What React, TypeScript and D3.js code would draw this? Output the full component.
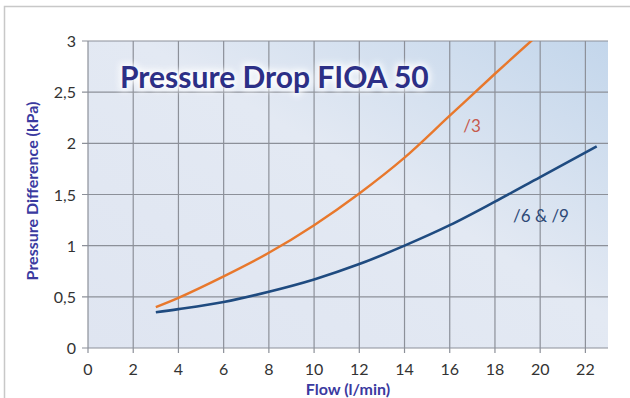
import * as d3 from 'd3';
import { useEffect, useRef } from 'react';

// Flow (l/min) values
const flow3 = [3, 4, 6, 8, 10, 12, 14, 16, 18, 19.6, 20];
const drop3 = [0.4, 0.49, 0.7, 0.93, 1.2, 1.51, 1.86, 2.27, 2.68, 3.0, 3.08];

const flow69 = [3, 4, 6, 8, 10, 12, 14, 16, 18, 20, 22.5];
const drop69 = [0.35, 0.38, 0.45, 0.55, 0.67, 0.82, 1.0, 1.2, 1.43, 1.67, 1.97];

const xTicks = [0, 2, 4, 6, 8, 10, 12, 14, 16, 18, 20, 22];
const yTicks = [0, 0.5, 1, 1.5, 2, 2.5, 3];

const FONT = 'Lato, "Open Sans", sans-serif';

export default function App() {
  const ref = useRef<SVGSVGElement | null>(null);

  useEffect(() => {
    if (!ref.current) return;
    const width = 630;
    const height = 398;
    const left = 88;
    const right = 608;
    const top = 41;
    const bottom = 348;

    const svg = d3.select(ref.current).attr('viewBox', `0 0 ${width} ${height}`);
    svg.selectAll('*').remove();

    const x = d3.scaleLinear().domain([0, 23]).range([left, right]);
    const y = d3.scaleLinear().domain([0, 3]).range([bottom, top]);

    const defs = svg.append('defs');
    const grad = defs
      .append('linearGradient')
      .attr('id', 'bg')
      .attr('x1', '0%')
      .attr('y1', '100%')
      .attr('x2', '100%')
      .attr('y2', '0%');
    grad.append('stop').attr('offset', '0%').attr('stop-color', '#dfe5f1');
    grad.append('stop').attr('offset', '55%').attr('stop-color', '#e3e9f3');
    grad.append('stop').attr('offset', '100%').attr('stop-color', '#c3d6eb');

    defs
      .append('clipPath')
      .attr('id', 'plot')
      .append('rect')
      .attr('x', left)
      .attr('y', top)
      .attr('width', right - left)
      .attr('height', bottom - top);

    const glow = defs
      .append('filter')
      .attr('id', 'glow')
      .attr('x', '-10%')
      .attr('y', '-30%')
      .attr('width', '120%')
      .attr('height', '160%');
    glow.append('feGaussianBlur').attr('stdDeviation', 3);

    /* ---- frame ---- */
    svg.append('rect').attr('width', width).attr('height', height).attr('fill', '#fff');
    svg
      .append('rect')
      .attr('x', 4.5)
      .attr('y', 6.5)
      .attr('width', width)
      .attr('height', height)
      .attr('fill', 'none')
      .attr('stroke', '#c8c8c8')
      .attr('stroke-width', 1.5);

    /* ---- plot background + grid ---- */
    svg
      .append('rect')
      .attr('x', left)
      .attr('y', top)
      .attr('width', right - left)
      .attr('height', bottom - top)
      .attr('fill', 'url(#bg)');

    const grid = svg.append('g').attr('stroke', '#8c9099').attr('stroke-width', 1.2);
    grid
      .selectAll('line.v')
      .data(xTicks)
      .enter()
      .append('line')
      .attr('x1', (d) => x(d))
      .attr('x2', (d) => x(d))
      .attr('y1', top)
      .attr('y2', bottom + 5);
    grid
      .selectAll('line.h')
      .data(yTicks)
      .enter()
      .append('line')
      .attr('x1', left - 6)
      .attr('x2', right)
      .attr('y1', (d) => y(d))
      .attr('y2', (d) => y(d));

    /* ---- tick labels ---- */
    const fmt = (v: number) => String(v).replace('.', ',');
    svg
      .append('g')
      .selectAll('text')
      .data(yTicks)
      .enter()
      .append('text')
      .attr('x', 76)
      .attr('y', (d) => y(d) + 6)
      .attr('text-anchor', 'end')
      .attr('font-family', FONT)
      .attr('font-size', 16)
      .attr('fill', '#333')
      .text(fmt);
    svg
      .append('g')
      .selectAll('text')
      .data(xTicks)
      .enter()
      .append('text')
      .attr('x', (d) => x(d))
      .attr('y', 375)
      .attr('text-anchor', 'middle')
      .attr('font-family', FONT)
      .attr('font-size', 16)
      .attr('fill', '#333')
      .text((d) => String(d));

    /* ---- curves ---- */
    const line = d3
      .line<[number, number]>()
      .x((d) => x(d[0]))
      .y((d) => y(d[1]))
      .curve(d3.curveCatmullRom.alpha(0.5));

    const curves = svg.append('g').attr('clip-path', 'url(#plot)');
    curves
      .append('path')
      .attr('d', line(flow3.map((f, i) => [f, drop3[i]] as [number, number])))
      .attr('fill', 'none')
      .attr('stroke', '#e8782c')
      .attr('stroke-width', 2.4);
    curves
      .append('path')
      .attr('d', line(flow69.map((f, i) => [f, drop69[i]] as [number, number])))
      .attr('fill', 'none')
      .attr('stroke', '#1f4b80')
      .attr('stroke-width', 2.6);

    /* ---- series labels ---- */
    svg
      .append('text')
      .attr('x', x(16.6))
      .attr('y', y(2.11))
      .attr('font-family', FONT)
      .attr('font-size', 17)
      .attr('fill', '#c65a4e')
      .text('/3');
    svg
      .append('text')
      .attr('x', x(18.8))
      .attr('y', y(1.23))
      .attr('font-family', FONT)
      .attr('font-size', 17)
      .attr('fill', '#2e4a78')
      .text('/6 & /9');

    /* ---- title ---- */
    const titleAttrs = (t: any) =>
      t
        .attr('x', 120)
        .attr('y', 88)
        .attr('font-family', FONT)
        .attr('font-weight', 'bold')
        .attr('font-size', 30)
        .text('Pressure Drop FIOA 50');
    titleAttrs(svg.append('text'))
      .attr('fill', '#fff')
      .attr('stroke', '#fff')
      .attr('stroke-width', 5)
      .attr('opacity', 0.9)
      .attr('filter', 'url(#glow)');
    titleAttrs(svg.append('text')).attr('fill', '#2c2f86');

    /* ---- axis titles ---- */
    svg
      .append('text')
      .attr('transform', `translate(38, 191) rotate(-90)`)
      .attr('text-anchor', 'middle')
      .attr('font-family', FONT)
      .attr('font-weight', 'bold')
      .attr('font-size', 16)
      .attr('fill', '#3a3aa0')
      .text('Pressure Difference (kPa)');
    svg
      .append('text')
      .attr('x', 348)
      .attr('y', 395)
      .attr('text-anchor', 'middle')
      .attr('font-family', FONT)
      .attr('font-weight', 'bold')
      .attr('font-size', 16)
      .attr('fill', '#3a3aa0')
      .text('Flow (l/min)');
  }, []);

  return (
    <svg
      ref={ref}
      width={630}
      height={398}
      style={{ position: 'absolute', left: 0, top: 0, display: 'block' }}
    />
  );
}
